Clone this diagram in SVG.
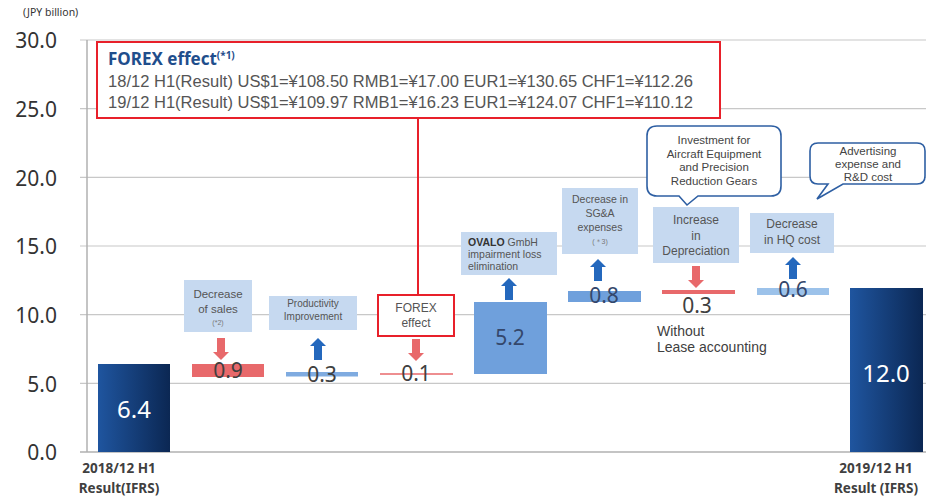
<svg xmlns="http://www.w3.org/2000/svg" width="926" height="500" viewBox="0 0 926 500">
<style>
text{font-family:"Noto Sans","DejaVu Sans",sans-serif}
.ls{font-family:"Liberation Sans","Arial",sans-serif}
.ax{font-size:21px;fill:#333;text-anchor:end}
.grid{stroke:#c8c8c8;stroke-width:1.2}
.lbox{fill:#c6d9f0}
.bt{font-family:"Liberation Sans","Arial",sans-serif;font-size:12px;fill:#555;text-anchor:middle}
.st{font-family:"Liberation Sans","Arial",sans-serif;font-size:10px;fill:#555;text-anchor:middle}
.sm{font-family:"Liberation Sans","Arial",sans-serif;font-size:10.5px;fill:#555}
.val{font-size:21px;fill:#404040;text-anchor:middle}
.wval{font-size:24px;fill:#fff;text-anchor:middle}
.red{fill:#e8696b}
.blu{fill:#2468bd}
.bub{fill:#fff;stroke:#2e5fa3;stroke-width:1.6}
.bubt{font-family:"Liberation Sans","Arial",sans-serif;font-size:11.5px;fill:#444;text-anchor:middle}
.cat{font-size:13.5px;font-weight:bold;fill:#404040;text-anchor:middle}
.fx{font-family:"Liberation Sans","Arial",sans-serif;font-size:16px;fill:#555}
</style>
<defs>
<linearGradient id="dk" x1="0" y1="0" x2="1" y2="0">
<stop offset="0" stop-color="#1f559f"/>
<stop offset="1" stop-color="#0b2753"/>
</linearGradient>
<path id="dn" d="M-4,-22 H4 V-8 H8 L0,0 L-8,-8 H-4 Z"/>
<path id="up" d="M-4,22 H4 V8 H8 L0,0 L-8,8 H-4 Z"/>
</defs>
<rect width="926" height="500" fill="#fff"/>
<g id="axes">
<text x="23" y="16" style="font-size:10.5px;fill:#333">(JPY billion)</text>
<line class="grid" x1="80" y1="40" x2="926" y2="40"/>
<line class="grid" x1="80" y1="108.7" x2="926" y2="108.7"/>
<line class="grid" x1="80" y1="177.3" x2="926" y2="177.3"/>
<line class="grid" x1="80" y1="246" x2="926" y2="246"/>
<line class="grid" x1="80" y1="314.7" x2="926" y2="314.7"/>
<line class="grid" x1="80" y1="383.3" x2="926" y2="383.3"/>
<line x1="80" y1="452" x2="926" y2="452" stroke="#b0b0b0" stroke-width="1.5"/>
<line x1="87" y1="40" x2="87" y2="452" stroke="#b0b0b0" stroke-width="1.5"/>
<text class="ax" x="57" y="48">30.0</text>
<text class="ax" x="57" y="117">25.0</text>
<text class="ax" x="57" y="186">20.0</text>
<text class="ax" x="57" y="254">15.0</text>
<text class="ax" x="57" y="323">10.0</text>
<text class="ax" x="57" y="392">5.0</text>
<text class="ax" x="57" y="460">0.0</text>
<text class="cat" x="119" y="473">2018/12 H1</text>
<text class="cat" x="119" y="493">Result(IFRS)</text>
<text class="cat" x="876" y="473">2019/12 H1</text>
<text class="cat" x="876" y="493">Result (IFRS)</text>
</g>
<g id="connectors">
<line x1="418" y1="118" x2="418" y2="295" stroke="#e8202a" stroke-width="2"/>
<use href="#dn" x="221" y="360" class="red"/>
<use href="#up" x="318" y="338" class="blu"/>
<use href="#dn" x="416" y="361" class="red"/>
<use href="#up" x="509" y="278" class="blu"/>
<use href="#up" x="598" y="259" class="blu"/>
<use href="#dn" x="696" y="288" class="red"/>
<use href="#up" x="793" y="257" class="blu"/>
</g>
<g id="bar-2018">
<rect x="98" y="364" width="72" height="88" fill="url(#dk)"/>
<text class="wval" x="134" y="418">6.4</text>
</g>
<g id="sales">
<rect class="lbox" x="184" y="280" width="68" height="52"/>
<text class="bt" x="218" y="298" style="font-size:11.5px">Decrease</text>
<text class="bt" x="218" y="313" style="font-size:11.5px">of sales</text>
<text class="ls" x="218" y="325" style="font-size:7px;fill:#777;text-anchor:middle">(*2)</text>
<rect x="192" y="364" width="72" height="13" fill="#e8696b"/>
<text class="val" x="228" y="378">0.9</text>
</g>
<g id="productivity">
<rect class="lbox" x="269" y="296" width="88" height="34"/>
<text class="st" x="313" y="307">Productivity</text>
<text class="st" x="313" y="320">Improvement</text>
<rect x="286" y="372" width="72" height="4.5" fill="#7fabe0"/>
<text class="val" x="322" y="382">0.3</text>
</g>
<g id="forex-small">
<rect x="378" y="295" width="76" height="41" fill="#fff" stroke="#e8202a" stroke-width="2"/>
<text class="bt" x="416" y="312">FOREX</text>
<text class="bt" x="416" y="327">effect</text>
<line x1="380" y1="374" x2="453" y2="374" stroke="#e8696b" stroke-width="1.5"/>
<text class="val" x="416" y="381">0.1</text>
</g>
<g id="forex-box">
<rect x="97" y="42" width="623" height="76" fill="#fff" stroke="#e8202a" stroke-width="2"/>
<text x="108" y="65" style="font-size:17px;font-weight:bold;fill:#1f4e8c">FOREX effect<tspan dy="-6" style="font-size:10px">(*1)</tspan></text>
<text class="fx" x="108" y="87" textLength="585" lengthAdjust="spacingAndGlyphs">18/12 H1(Result) US$1=¥108.50 RMB1=¥17.00 EUR1=¥130.65 CHF1=¥112.26</text>
<text class="fx" x="108" y="108" textLength="585" lengthAdjust="spacingAndGlyphs">19/12 H1(Result) US$1=¥109.97 RMB1=¥16.23 EUR1=¥124.07 CHF1=¥110.12</text>
</g>
<g id="ovalo">
<rect class="lbox" x="461" y="232" width="96" height="43"/>
<text class="sm" x="468" y="246"><tspan font-weight="bold" fill="#333">OVALO</tspan> GmbH</text>
<text class="sm" x="468" y="258">impairment loss</text>
<text class="sm" x="468" y="270">elimination</text>
<rect x="474" y="302" width="73" height="72" fill="#6fa0dc"/>
<text class="val" x="510" y="345" style="fill:#34476b">5.2</text>
</g>
<g id="sga">
<rect class="lbox" x="562" y="188" width="76" height="66"/>
<text class="sm" x="600" y="203" text-anchor="middle">Decrease in</text>
<text class="sm" x="600" y="217" text-anchor="middle">SG&amp;A</text>
<text class="sm" x="600" y="231" text-anchor="middle">expenses</text>
<text class="ls" x="600" y="244" style="font-size:7px;fill:#777;text-anchor:middle">(＊3)</text>
<rect x="568" y="291" width="73" height="11" fill="#6fa0dc"/>
<text class="val" x="604" y="303" style="fill:#34476b">0.8</text>
</g>
<g id="depreciation">
<rect class="lbox" x="653" y="207" width="86" height="56"/>
<text class="bt" x="696" y="224">Increase</text>
<text class="bt" x="696" y="240">in</text>
<text class="bt" x="696" y="255">Depreciation</text>
<rect x="662" y="290" width="73" height="4" fill="#e8696b"/>
<text class="val" x="697" y="313">0.3</text>
</g>
<g id="bubble-investment">
<path class="bub" d="M657,126 H771 Q781,126 781,136 V186 Q781,196 771,196 H698 L687,205 L679,196 H657 Q647,196 647,186 V136 Q647,126 657,126 Z"/>
<text class="bubt" x="714" y="144">Investment for</text>
<text class="bubt" x="714" y="157.5">Aircraft Equipment</text>
<text class="bubt" x="714" y="171">and Precision</text>
<text class="bubt" x="714" y="184.5">Reduction Gears</text>
</g>
<g id="hq">
<rect class="lbox" x="750" y="213" width="84" height="40"/>
<text class="bt" x="792" y="228">Decrease</text>
<text class="bt" x="792" y="244">in HQ cost</text>
<rect x="757" y="288" width="72" height="7" fill="#9cc2ea"/>
<text class="val" x="793" y="297" style="fill:#34476b">0.6</text>
</g>
<g id="bubble-advertising">
<path class="bub" d="M818,143 H917 Q925,143 925,151 V176 Q925,184 917,184 H843 L817,199 L828,184 H818 Q810,184 810,176 V151 Q810,143 818,143 Z"/>
<text class="bubt" x="868" y="155">Advertising</text>
<text class="bubt" x="868" y="168">expense and</text>
<text class="bubt" x="868" y="181">R&amp;D cost</text>
</g>
<g id="lease-note">
<text class="ls" x="657" y="336" style="font-size:14px;fill:#404040">Without</text>
<text class="ls" x="657" y="352" style="font-size:14px;fill:#404040">Lease accounting</text>
</g>
<g id="bar-2019">
<rect x="850" y="288" width="73" height="164" fill="url(#dk)"/>
<text class="wval" x="886" y="382">12.0</text>
</g>
</svg>
